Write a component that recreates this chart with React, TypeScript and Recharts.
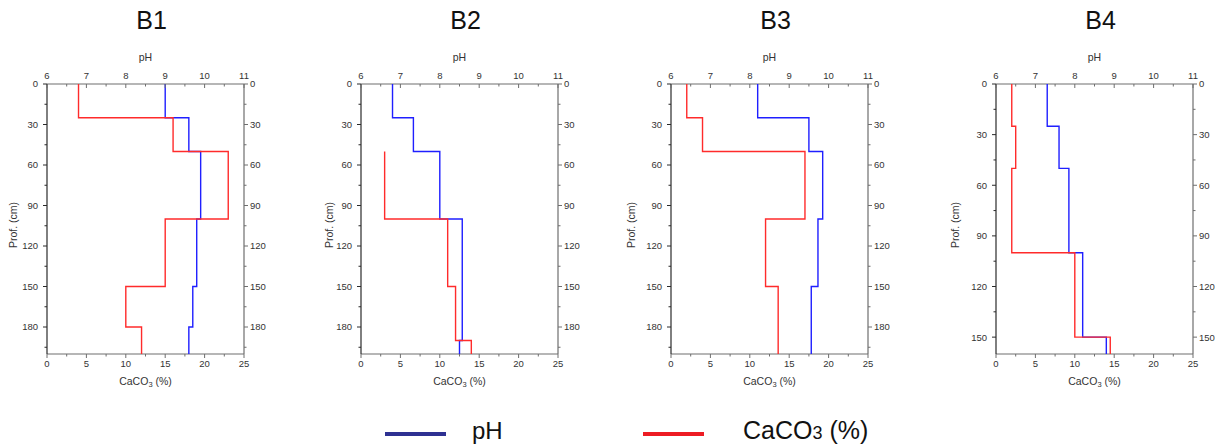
import React from 'react';
import { ScatterChart, Scatter, XAxis, YAxis, Label } from 'recharts';

// ---------- tick labels ----------
const PH_TICKS = [6, 7, 8, 9, 10, 11];
const PH_MINOR = [6.5, 7.5, 8.5, 9.5, 10.5];
const CA_TICKS = [0, 5, 10, 15, 20, 25];
const CA_MINOR = [2.5, 7.5, 12.5, 17.5, 22.5];
const DEPTH_TICKS_200 = [0, 30, 60, 90, 120, 150, 180];
const DEPTH_MINOR_200 = [15, 45, 75, 105, 135, 165, 195];
const DEPTH_TICKS_160 = [0, 30, 60, 90, 120, 150];
const DEPTH_MINOR_160 = [15, 45, 75, 105, 135];

const TITLES = ['B1', 'B2', 'B3', 'B4'];

// ---------- series values (layer boundaries in cm, layer values) ----------
const B1_PH_DEPTHS = [0, 25, 50, 100, 150, 180, 200];
const B1_PH = [9.0, 9.6, 9.9, 9.8, 9.7, 9.6];
const B1_CA_DEPTHS = [0, 25, 50, 100, 150, 180, 200];
const B1_CA = [4, 16, 23, 15, 10, 12];

const B2_PH_DEPTHS = [0, 25, 50, 100, 190, 200];
const B2_PH = [6.8, 7.33, 8.0, 8.57, 8.5];
const B2_CA_DEPTHS = [50, 100, 150, 190, 200];
const B2_CA = [3, 11, 12, 14];

const B3_PH_DEPTHS = [0, 25, 50, 100, 150, 200];
const B3_PH = [8.2, 9.5, 9.85, 9.73, 9.56];
const B3_CA_DEPTHS = [0, 25, 50, 100, 150, 200];
const B3_CA = [2, 4, 17, 12, 13.6];

const B4_PH_DEPTHS = [0, 25, 50, 100, 150, 160];
const B4_PH = [7.3, 7.6, 7.85, 8.2, 8.8];
const B4_CA_DEPTHS = [0, 25, 50, 100, 150, 160];
const B4_CA = [2, 2.5, 2, 10, 14.5];

const DEPTH_MAX = [200, 200, 200, 160];

// ---------- layout / style ----------
const FONT = '"Liberation Sans", Arial, Helvetica, sans-serif';
const PLOT_LEFT = [47, 361, 671, 996];
const PLOT_TOP = 84;
const PLOT_W = 197;
const PLOT_H = 270;
const LEFT_W = 50;
const RIGHT_W = 30;
const TOP_H = 54;
const BOTTOM_H = 46;
const YLABEL_OFF = [34, 32, 40, 41];
const BLUE = '#1f1fff';
const RED = '#ff2b2b';
const AX_DARK = '#2a2a2a';
const AX = '#6e6e6e';
const TXT = '#333333';
const TICK_FS = 9.5;

type Pt = { v: number; d: number };
function steps(depths: number[], vals: number[]): Pt[] {
  const pts: Pt[] = [];
  vals.forEach((v, i) => {
    pts.push({ v, d: depths[i] });
    pts.push({ v, d: depths[i + 1] });
  });
  return pts;
}

const PANELS = [
  { ph: steps(B1_PH_DEPTHS, B1_PH), ca: steps(B1_CA_DEPTHS, B1_CA) },
  { ph: steps(B2_PH_DEPTHS, B2_PH), ca: steps(B2_CA_DEPTHS, B2_CA) },
  { ph: steps(B3_PH_DEPTHS, B3_PH), ca: steps(B3_CA_DEPTHS, B3_CA) },
  { ph: steps(B4_PH_DEPTHS, B4_PH), ca: steps(B4_CA_DEPTHS, B4_CA) },
];

function fmt(v: number) {
  return String(v);
}

function makeTick(orient: 'left' | 'right' | 'top' | 'bottom', majors: number[], color: string) {
  return (props: any) => {
    const { x, y, payload } = props;
    const v = payload.value;
    const major = majors.includes(v);
    const len = major ? 4 : 2.5;
    if (orient === 'left') {
      return (
        <g>
          <line x1={x - len} y1={y} x2={x} y2={y} stroke={color} strokeWidth={1} />
          {major && (
            <text x={x - 9} y={y + 3.4} textAnchor="end" fontSize={TICK_FS} fill={TXT}>
              {fmt(v)}
            </text>
          )}
        </g>
      );
    }
    if (orient === 'right') {
      return (
        <g>
          <line x1={x} y1={y} x2={x + len} y2={y} stroke={color} strokeWidth={1} />
          {major && (
            <text x={x + 6} y={y + 3.4} textAnchor="start" fontSize={TICK_FS} fill={TXT}>
              {fmt(v)}
            </text>
          )}
        </g>
      );
    }
    if (orient === 'top') {
      return (
        <g>
          <line x1={x} y1={y} x2={x} y2={y + len} stroke={color} strokeWidth={1} />
          {major && (
            <text x={x} y={y - 5.5} textAnchor="middle" fontSize={TICK_FS} fill={TXT}>
              {fmt(v)}
            </text>
          )}
        </g>
      );
    }
    return (
      <g>
        <line x1={x} y1={y} x2={x} y2={y + len} stroke={color} strokeWidth={1} />
        {major && (
          <text x={x} y={y + 12.5} textAnchor="middle" fontSize={TICK_FS} fill={TXT}>
            {fmt(v)}
          </text>
        )}
      </g>
    );
  };
}

const noShape = () => <g />;

function Panel({ idx }: { idx: number }) {
  const p = PANELS[idx];
  const dmax = DEPTH_MAX[idx];
  const dMajor = dmax === 200 ? DEPTH_TICKS_200 : DEPTH_TICKS_160;
  const dMinor = dmax === 200 ? DEPTH_MINOR_200 : DEPTH_MINOR_160;
  const dTicks = [...dMajor, ...dMinor].sort((a, b) => a - b);
  const phTicks = [...PH_TICKS, ...PH_MINOR].sort((a, b) => a - b);
  const caTicks = [...CA_TICKS, ...CA_MINOR].sort((a, b) => a - b);
  const W = LEFT_W + PLOT_W + RIGHT_W;
  const H = TOP_H + PLOT_H + BOTTOM_H;
  const yOff = YLABEL_OFF[idx];
  return (
    <div style={{ position: 'absolute', left: PLOT_LEFT[idx] - LEFT_W, top: PLOT_TOP - TOP_H }}>
      <ScatterChart width={W} height={H} margin={{ top: 0, right: 0, bottom: 0, left: 0 }} style={{ fontFamily: FONT }}>
        <XAxis
          xAxisId="ph"
          orientation="top"
          type="number"
          dataKey="v"
          domain={[6, 11]}
          ticks={phTicks}
          interval={0}
          height={TOP_H}
          tickSize={0}
          tickMargin={0}
          tick={makeTick('top', PH_TICKS, AX)}
          axisLine={{ stroke: AX, strokeWidth: 1.2 }}
          allowDataOverflow
        >
          <Label
            content={(lp: any) => {
              const vb = lp.viewBox || {};
              return (
                <text x={vb.x + vb.width / 2} y={vb.y + 31} textAnchor="middle" fontSize={10.5} fill={TXT}>
                  pH
                </text>
              );
            }}
          />
        </XAxis>
        <XAxis
          xAxisId="ca"
          orientation="bottom"
          type="number"
          dataKey="v"
          domain={[0, 25]}
          ticks={caTicks}
          interval={0}
          height={BOTTOM_H}
          tickSize={0}
          tickMargin={0}
          tick={makeTick('bottom', CA_TICKS, AX)}
          axisLine={{ stroke: AX, strokeWidth: 1.2 }}
          allowDataOverflow
        >
          <Label
            content={(lp: any) => {
              const vb = lp.viewBox || {};
              return (
                <text x={vb.x + vb.width / 2} y={vb.y + 31} textAnchor="middle" fontSize={10.5} fill={TXT}>
                  CaCO
                  <tspan fontSize={7.5} dy={2}>
                    3
                  </tspan>
                  <tspan dy={-2}> (%)</tspan>
                </text>
              );
            }}
          />
        </XAxis>
        <YAxis
          yAxisId="left"
          orientation="left"
          type="number"
          dataKey="d"
          domain={[0, dmax]}
          reversed
          ticks={dTicks}
          interval={0}
          width={LEFT_W}
          tickSize={0}
          tickMargin={0}
          tick={makeTick('left', dMajor, AX_DARK)}
          axisLine={{ stroke: AX_DARK, strokeWidth: 1.2 }}
          allowDataOverflow
        >
          <Label
            content={(lp: any) => {
              const vb = lp.viewBox || {};
              const cx = vb.x + vb.width - yOff;
              const cy = vb.y + vb.height / 2 + 6;
              return (
                <text
                  x={cx}
                  y={cy + 3.7}
                  transform={`rotate(-90 ${cx} ${cy})`}
                  textAnchor="middle"
                  fontSize={10.5}
                  fill={TXT}
                >
                  Prof. (cm)
                </text>
              );
            }}
          />
        </YAxis>
        <YAxis
          yAxisId="right"
          orientation="right"
          type="number"
          dataKey="d"
          domain={[0, dmax]}
          reversed
          ticks={dTicks}
          interval={0}
          width={RIGHT_W}
          tickSize={0}
          tickMargin={0}
          tick={makeTick('right', dMajor, AX)}
          axisLine={{ stroke: AX, strokeWidth: 1.2 }}
          allowDataOverflow
        />
        <Scatter
          name="CaCO3 hidden"
          data={p.ca}
          xAxisId="ca"
          yAxisId="right"
          shape={noShape}
          isAnimationActive={false}
          legendType="none"
        />
        <Scatter
          name="pH"
          data={p.ph}
          xAxisId="ph"
          yAxisId="left"
          fill={BLUE}
          stroke={BLUE}
          line={{ stroke: BLUE, strokeWidth: 1.4 }}
          lineType="joint"
          shape={noShape}
          isAnimationActive={false}
        />
        <Scatter
          name="CaCO3 (%)"
          data={p.ca}
          xAxisId="ca"
          yAxisId="left"
          fill={RED}
          stroke={RED}
          line={{ stroke: RED, strokeWidth: 1.4 }}
          lineType="joint"
          shape={noShape}
          isAnimationActive={false}
        />
      </ScatterChart>
    </div>
  );
}

export default function App() {
  return (
    <div
      style={{
        position: 'absolute',
        left: 0,
        top: 0,
        width: 1220,
        height: 445,
        background: '#ffffff',
        fontFamily: FONT,
        overflow: 'hidden',
      }}
    >
      {TITLES.map((t, i) => (
        <div
          key={t}
          style={{
            position: 'absolute',
            left: PLOT_LEFT[i] + PLOT_W / 2 + 6 - 60,
            top: 4,
            width: 120,
            textAlign: 'center',
            fontSize: 25,
            lineHeight: '32px',
            color: '#111',
          }}
        >
          {t}
        </div>
      ))}
      {[0, 1, 2, 3].map((i) => (
        <Panel key={i} idx={i} />
      ))}
      {/* legend */}
      <div style={{ position: 'absolute', left: 385, top: 432, width: 61, height: 4, background: '#2e3192' }} />
      <div style={{ position: 'absolute', left: 472, top: 419, fontSize: 24, lineHeight: '24px', color: '#111' }}>pH</div>
      <div style={{ position: 'absolute', left: 643, top: 432, width: 61, height: 4, background: '#ed1c24' }} />
      <div style={{ position: 'absolute', left: 743, top: 418, fontSize: 25, lineHeight: '25px', color: '#111', whiteSpace: 'nowrap' }}>
        CaCO<span style={{ fontSize: 18 }}>3</span> (%)
      </div>
    </div>
  );
}
